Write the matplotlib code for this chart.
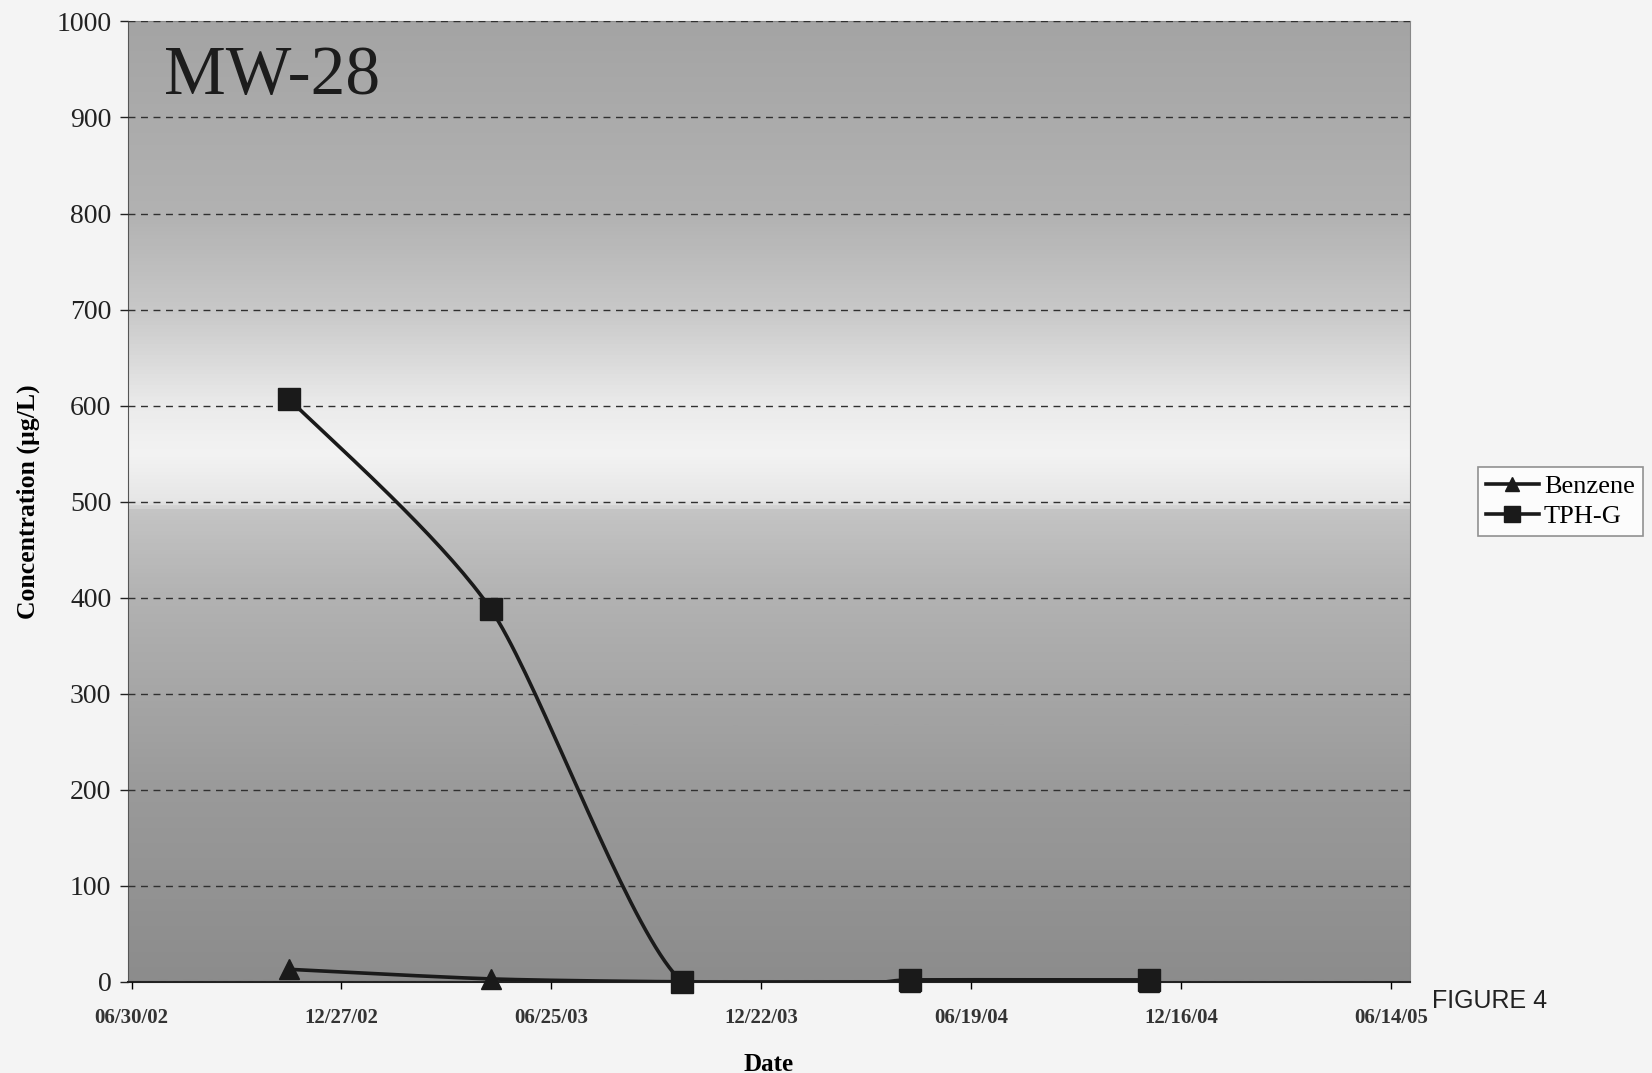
import numpy as np
import pandas as pd
import matplotlib
matplotlib.use('Agg')
import matplotlib.pyplot as plt
import matplotlib.dates as mdates
from matplotlib.colors import LinearSegmentedColormap

# data
dates = pd.to_datetime(['2002-11-12', '2003-05-04', '2003-10-15', '2004-04-27', '2004-11-18'])
benzene = [13, 3, 0, 0, 0]
tph_g = [607, 388, 0, 2, 2]
tick_dates = pd.to_datetime(['2002-06-30', '2002-12-27', '2003-06-25', '2003-12-22',
                             '2004-06-19', '2004-12-16', '2005-06-14'])
y_ticks = list(range(0, 1001, 100))


def smooth(x, y, n=40, k=8):
    # Excel-style smoothed line: cubic bezier through the points
    x = np.asarray(x, float)
    y = np.asarray(y, float)
    p = np.column_stack([x, y])
    out = []
    for i in range(len(p) - 1):
        p0 = p[i - 1] if i > 0 else p[i]
        p1, p2 = p[i], p[i + 1]
        p3 = p[i + 2] if i + 2 < len(p) else p[i + 1]
        c1 = p1 + (p2 - p0) / k
        c2 = p2 - (p3 - p1) / k
        t = np.linspace(0, 1, n)[:, None]
        seg = ((1 - t) ** 3) * p1 + 3 * ((1 - t) ** 2) * t * c1 + 3 * (1 - t) * t ** 2 * c2 + t ** 3 * p2
        out.append(seg if i == 0 else seg[1:])
    s = np.vstack(out)
    return s[:, 0], s[:, 1]


plt.rcParams['font.family'] = ['Liberation Serif', 'DejaVu Serif']

fig = plt.figure(figsize=(16.52, 10.73), dpi=100)
fig.patch.set_facecolor('#f4f4f4')
ax = fig.add_axes([0.0775, 0.085, 0.776, 0.895])

# gradient background of the plot area
stops = [(0.0, '#8c8c8c'), (0.2, '#9a9a9a'), (0.4, '#b2b2b2'), (0.49, '#c4c4c4'),
         (0.5, '#e6e6e6'), (0.55, '#f3f3f3'), (0.6, '#ebebeb'), (0.7, '#c8c8c8'),
         (0.8, '#b2b2b2'), (1.0, '#a4a4a4')]
cmap = LinearSegmentedColormap.from_list('bg', stops)
grad = np.linspace(0, 1, 1024)[:, None]
ax.imshow(grad, cmap=cmap, aspect='auto', extent=[0, 1, 0, 1], origin='lower',
          transform=ax.transAxes, zorder=0, vmin=0, vmax=1)

xn = mdates.date2num(dates)
bx, by = smooth(xn, benzene)
tx, ty = smooth(xn, tph_g)

ax.plot(bx, by, color='#1a1a1a', lw=2.6, zorder=3)
ax.plot(xn, benzene, ls='none', marker='^', ms=14, color='#1a1a1a', zorder=4, clip_on=False)
ax.plot(tx, ty, color='#1a1a1a', lw=2.6, zorder=3)
ax.plot(xn, tph_g, ls='none', marker='s', ms=16, color='#1a1a1a', zorder=5, clip_on=False)

# legend handles
ax.plot([], [], color='#1a1a1a', lw=2.6, marker='^', ms=10, label='Benzene')
ax.plot([], [], color='#1a1a1a', lw=2.6, marker='s', ms=11, label='TPH-G')

ax.set_ylim(0, 1000)
ax.set_yticks(y_ticks)
ax.yaxis.grid(True, color='#303030', ls=(0, (5, 4)), lw=1.0)
ax.set_axisbelow(False)
for gl in ax.get_ygridlines():
    gl.set_zorder(1)

x0 = mdates.date2num(tick_dates[0]) - 3
x1 = mdates.date2num(tick_dates[-1]) + 16
ax.set_xlim(x0, x1)
ax.set_xticks(mdates.date2num(tick_dates))
ax.set_xticklabels([d.strftime('%m/%d/%y') for d in tick_dates], fontsize=15, fontweight='bold',
                   color='#333333')
ax.tick_params(axis='y', labelsize=20, length=6, width=1, pad=6, colors='#222222')
ax.tick_params(axis='x', length=5, width=1, pad=14)

ax.spines['left'].set_color('#555555')
ax.spines['bottom'].set_color('#222222')
ax.spines['bottom'].set_linewidth(1.5)
ax.spines['top'].set_color('#888888')
ax.spines['right'].set_color('#888888')

ax.set_ylabel('Concentration (µg/L)', fontsize=18.5, fontweight='bold', labelpad=12)
ax.set_xlabel('Date', fontsize=18, fontweight='bold', labelpad=18)

ax.text(0.028, 0.975, 'MW-28', transform=ax.transAxes, fontsize=50, va='top', ha='left',
        color='#1c1c1c', zorder=6)

leg = ax.legend(loc='center left', bbox_to_anchor=(1.053, 0.5), fontsize=19, handlelength=2.0,
                handletextpad=0.2, frameon=True, fancybox=False, borderpad=0.3,
                borderaxespad=0.0, labelspacing=0.25)
leg.get_frame().set_edgecolor('#777777')
leg.get_frame().set_facecolor('white')
leg.get_frame().set_linewidth(1.2)

fig.text(0.867, 0.067, 'FIGURE 4', fontsize=18, family=['Liberation Sans', 'DejaVu Sans'],
         color='#222222', ha='left', va='center')

fig.savefig('out.png', dpi=100)
